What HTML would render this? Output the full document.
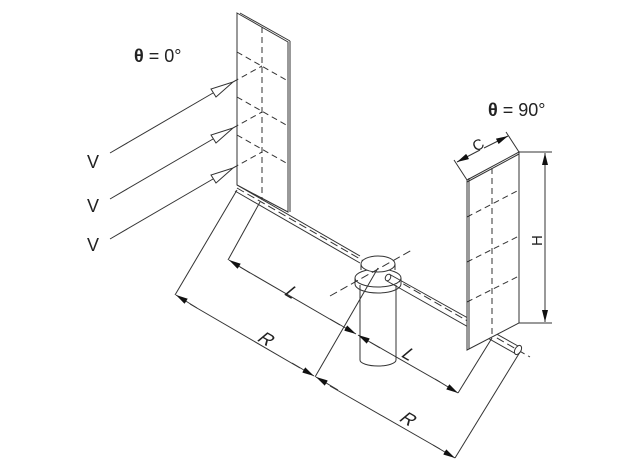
<!DOCTYPE html>
<html><head><meta charset="utf-8"><style>
html,body{margin:0;padding:0;background:#fff;}
svg{display:block;}
text{font-family:"Liberation Sans",sans-serif;fill:#222;}
</style></head><body>
<svg width="633" height="468" viewBox="0 0 633 468" xmlns="http://www.w3.org/2000/svg">
<defs>
<marker id="a" viewBox="0 0 12 6" refX="12" refY="3" markerWidth="12" markerHeight="6" orient="auto" markerUnits="userSpaceOnUse"><path d="M0,0 L12,3 L0,6 z" fill="#111"/></marker>
</defs>
<g stroke="#333" stroke-width="1" fill="none">
<polygon points="237,13 288,42 288,212 237,185" fill="#fff"/>
<line x1="240" y1="13" x2="290" y2="41"/>
<line x1="290" y1="41" x2="290" y2="212"/>
<g stroke-dasharray="6,4">
<line x1="262" y1="27" x2="262" y2="200"/>
<line x1="237" y1="52" x2="288" y2="81"/>
<line x1="237" y1="97" x2="288" y2="126"/>
<line x1="237" y1="135" x2="288" y2="164"/>
<line x1="233" y1="82" x2="262" y2="66"/>
<line x1="233" y1="128" x2="262" y2="112"/>
<line x1="233" y1="168" x2="262" y2="152"/>
</g>
<line x1="110" y1="153" x2="213" y2="93"/>
<line x1="110" y1="199" x2="213" y2="139"/>
<line x1="110" y1="239" x2="213" y2="179"/>
<polygon points="233,82 211,89 216,97" fill="#fff"/>
<polygon points="233,128 211,135 216,143" fill="#fff"/>
<polygon points="233,168 211,175 216,183" fill="#fff"/>
<line x1="237" y1="185" x2="360" y2="256"/>
<line x1="235" y1="191" x2="360" y2="263"/>
<line x1="237" y1="188" x2="530" y2="357" stroke-dasharray="8,4"/>
<path d="M360,285 L360,360 A18,6 0 0 0 396,360 L396,285" fill="#fff"/>
<ellipse cx="378" cy="278" rx="23" ry="9" fill="#fff"/>
<path d="M355,278 L355,284 A23,9 0 0 0 401,284 L401,278"/>
<ellipse cx="378" cy="264" rx="17" ry="8" fill="#fff"/>
<path d="M361,264 L361,270 M395,264 L395,270"/>
<line x1="389" y1="274" x2="518" y2="346"/>
<line x1="387" y1="281" x2="516" y2="354"/>
<ellipse cx="388" cy="277.5" rx="2.5" ry="3.5" fill="#fff" transform="rotate(30 388 277.5)"/>
<line x1="330" y1="296" x2="412" y2="250" stroke-dasharray="8,4"/>
<polygon points="467,180 519,152 519,323 467,350" fill="#fff"/>
<line x1="469" y1="178" x2="469" y2="349"/>
<line x1="467" y1="182" x2="519" y2="154"/>
<g stroke-dasharray="6,4">
<line x1="492" y1="168" x2="492" y2="337"/>
<line x1="467" y1="217" x2="519" y2="190"/>
<line x1="467" y1="262" x2="519" y2="236"/>
<line x1="467" y1="302" x2="519" y2="276"/>
</g>
<ellipse cx="518" cy="350" rx="3" ry="5" fill="#fff" transform="rotate(30 518 350)"/>
<line x1="519" y1="152" x2="552" y2="152"/>
<line x1="519" y1="323" x2="552" y2="323"/>
<line x1="545" y1="170" x2="545" y2="153" marker-end="url(#a)"/>
<line x1="545" y1="300" x2="545" y2="322" marker-end="url(#a)"/>
<line x1="545" y1="165" x2="545" y2="310"/>
<line x1="467" y1="180" x2="454" y2="160"/>
<line x1="519" y1="152" x2="506" y2="132"/>
<line x1="480" y1="150" x2="457" y2="162" marker-end="url(#a)"/>
<line x1="484" y1="148" x2="508" y2="136" marker-end="url(#a)"/>
<line x1="228" y1="260" x2="260" y2="202"/>
<line x1="458" y1="393" x2="492" y2="338"/>
<line x1="175" y1="295" x2="237" y2="190"/>
<line x1="455" y1="458" x2="520" y2="352"/>
<line x1="315" y1="377" x2="378" y2="268"/>
<line x1="250" y1="273" x2="229" y2="260" marker-end="url(#a)"/>
<line x1="240" y1="267" x2="340" y2="325"/>
<line x1="330" y1="319" x2="356" y2="334" marker-end="url(#a)"/>
<line x1="380" y1="348" x2="358" y2="335" marker-end="url(#a)"/>
<line x1="370" y1="342" x2="440" y2="382"/>
<line x1="435" y1="379" x2="458" y2="393" marker-end="url(#a)"/>
<line x1="197" y1="308" x2="176" y2="295" marker-end="url(#a)"/>
<line x1="190" y1="304" x2="300" y2="368"/>
<line x1="292" y1="363" x2="314" y2="376" marker-end="url(#a)"/>
<line x1="338" y1="390" x2="316" y2="377" marker-end="url(#a)"/>
<line x1="330" y1="386" x2="440" y2="449"/>
<line x1="433" y1="445" x2="455" y2="458" marker-end="url(#a)"/>
</g>
<g font-size="18">
<text x="87" y="168">V</text>
<text x="87" y="212">V</text>
<text x="87" y="251">V</text>
<text x="134" y="62"><tspan font-weight="bold">θ</tspan> = 0°</text>
<text x="488" y="116"><tspan font-weight="bold">θ</tspan> = 90°</text>
<text transform="translate(283,294) rotate(30) skewX(-20)">L</text>
<text transform="translate(400,356) rotate(30) skewX(-20)">L</text>
<text transform="translate(256,340) rotate(30) skewX(-20)">R</text>
<text transform="translate(398,420) rotate(30) skewX(-20)">R</text>
<text transform="translate(476,152) rotate(-30)" font-size="15">C</text>
<text transform="translate(542,246) rotate(-90)" font-size="15">H</text>
</g>
</svg>
</body></html>
